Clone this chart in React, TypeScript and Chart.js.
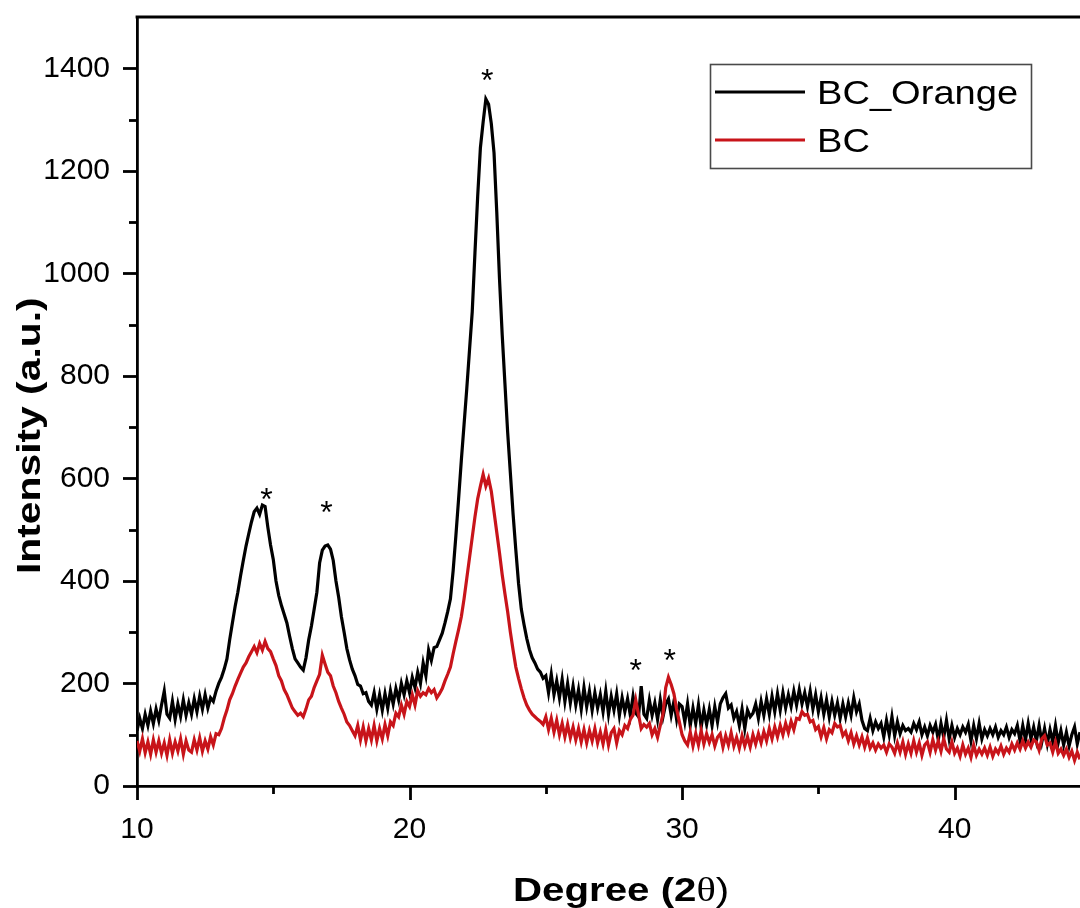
import React, { useEffect, useRef } from "react";
import { Chart, registerables } from "chart.js";

Chart.register(...registerables);

// 2θ grid of the scan (degrees)
const X_START = 10;
const X_STEP = 0.1;

// BC_Orange intensities, 10.0° → 44.6° every 0.1°
const bcOrange = [
  108, 132, 112, 140, 118, 146, 122, 150, 128, 158,
  185, 140, 132, 165, 130, 160, 136, 168, 138, 162,
  140, 170, 145, 175, 150, 178, 152, 172, 165, 185,
  200, 212, 228, 248, 285, 318, 350, 378, 410, 440,
  468, 492, 515, 535, 542, 530, 548, 545, 505, 470,
  442, 400, 372, 352, 335, 318, 292, 268, 248, 240,
  232, 226, 250, 285, 312, 345, 378, 435, 460, 468,
  470, 462, 440, 400, 368, 330, 300, 268, 246, 228,
  215, 198, 195, 180, 182, 165, 158, 182, 150, 178,
  148, 180, 152, 186, 160, 190, 168, 200, 178, 205,
  182, 212, 192, 222, 200, 240, 215, 265, 245, 270,
  272, 285, 298, 318, 340, 365, 420, 488, 560, 635,
  705, 775, 850, 925, 1040, 1150, 1245, 1295, 1340, 1330,
  1292, 1235, 1120, 990, 880, 785, 690, 610, 530, 460,
  395, 345, 315, 288, 266, 250, 240, 228, 222, 210,
  215, 182, 218, 178, 205, 172, 208, 165, 200, 162,
  195, 158, 188, 150, 192, 155, 185, 148, 182, 152,
  178, 145, 185, 140, 175, 148, 180, 138, 172, 145,
  170, 138, 175, 142, 135, 195, 140, 132, 168, 138,
  162, 130, 168, 135, 160, 170, 138, 165, 130, 160,
  155, 125, 160, 118, 152, 122, 158, 115, 148, 120,
  150, 118, 155, 125, 160, 172, 180, 152, 158, 132,
  145, 118, 150, 112, 148, 135, 142, 160, 132, 165,
  138, 170, 140, 175, 145, 180, 148, 182, 152, 178,
  155, 185, 158, 188, 160, 182, 155, 185, 150, 178,
  145, 172, 140, 168, 135, 165, 138, 162, 132, 160,
  135, 162, 138, 172, 145, 160, 128, 112, 108, 132,
  108, 125, 112, 122, 96, 128, 100, 135, 98, 125,
  102, 118, 108, 112, 105, 122, 110, 125, 100, 115,
  98, 118, 105, 120, 90, 122, 95, 128, 92, 118,
  95, 112, 100, 115, 105, 120, 88, 118, 92, 122,
  92, 110, 98, 112, 100, 115, 95, 108, 100, 115,
  95, 110, 102, 118, 88, 118, 90, 122, 92, 115,
  88, 118, 86, 112, 82, 110, 86, 118, 84, 108,
  80, 105, 78, 100, 115, 82, 105,
];

// BC intensities, same grid
const bc = [
  88, 68, 92, 65, 86, 62, 90, 66, 88, 64,
  84, 60, 90, 64, 86, 68, 92, 62, 88, 70,
  66, 90, 70, 94, 68, 88, 72, 96, 80, 102,
  100, 112, 132, 148, 168, 180, 195, 208, 220, 232,
  240, 252, 262, 272, 260, 278, 265, 282, 268, 262,
  248, 235, 215, 205, 188, 178, 165, 152, 145, 138,
  142, 135, 150, 168, 175, 192, 205, 218, 255, 238,
  222, 215, 195, 182, 165, 152, 140, 125, 118, 108,
  98, 118, 90, 115, 88, 112, 90, 118, 88, 112,
  92, 120, 98, 125, 118, 142, 135, 158, 140, 165,
  155, 178, 158, 186, 175, 182, 178, 190, 182, 188,
  172, 180, 190, 205, 218, 232, 258, 282, 305, 330,
  365, 405, 445, 485, 525, 560, 585, 608, 585, 600,
  575, 535, 495, 455, 412, 375, 340, 300, 265, 232,
  210, 190, 172, 158, 148, 140, 135, 130, 126, 120,
  135, 110, 132, 105, 128, 100, 122, 96, 120, 94,
  115, 90, 112, 86, 110, 84, 108, 88, 112, 84,
  105, 82, 110, 80, 104, 112, 84, 108, 100, 118,
  112, 130, 138, 168, 140, 112, 120, 115, 122, 100,
  112, 95, 118, 140, 192, 212, 198, 180, 150, 125,
  100, 88, 80, 105, 78, 102, 80, 108, 82, 102,
  85, 100, 78, 95, 102, 76, 98, 80, 104, 78,
  95, 74, 98, 78, 96, 76, 100, 82, 102, 84,
  106, 88, 112, 92, 115, 96, 118, 100, 122, 104,
  126, 110, 132, 130, 145, 138, 140, 125, 128, 110,
  116, 96, 114, 92, 110, 104, 122, 115, 118, 98,
  106, 88, 104, 82, 98, 80, 96, 76, 94, 74,
  84, 70, 82, 74, 80, 66, 82, 76, 64, 84,
  66, 86, 62, 82, 64, 88, 66, 84, 60, 80,
  86, 66, 90, 70, 88, 68, 92, 72, 66, 86,
  64, 74, 58, 80, 62, 74, 56, 80, 60, 72,
  62, 74, 60, 76, 58, 72, 64, 78, 62, 74,
  66, 82, 70, 84, 72, 88, 74, 86, 76, 90,
  86, 70, 92, 98, 80, 84, 66, 86, 64, 72,
  60, 72, 56, 68, 50, 66, 52,
];

const seriesLabels = ["BC_Orange", "BC"];
const seriesColors = ["#000000", "#c8141a"];

const X_MIN = 10;
const X_MAX = 44.6;
const Y_MIN = 0;
const Y_MAX = 1500;

const xMajorTicks = [10, 20, 30, 40];
const xMinorTicks = [15, 25, 35];
const yMajorTicks = [0, 200, 400, 600, 800, 1000, 1200, 1400];
const yMinorTicks = [100, 300, 500, 700, 900, 1100, 1300];

// peak markers (*)
const starX = [14.75, 16.95, 22.85, 28.3, 29.55];
const starY = [573, 548, 1390, 240, 259];

const xTitle = ["Degree (2", "θ", ")"];
const yTitle = "Intensity (a.u.)";

const SANS = '"Liberation Sans", Arial, Helvetica, sans-serif';
const SERIF = '"Liberation Serif", "Times New Roman", serif';

function toPoints(values: number[]) {
  return values.map((v, i) => ({ x: +(X_START + i * X_STEP).toFixed(1), y: v }));
}

const decorPlugin = {
  id: "decor",
  afterDraw(chart: any) {
    const { ctx, chartArea: ca } = chart;
    const xs = chart.scales.x;
    const ys = chart.scales.y;
    ctx.save();
    ctx.strokeStyle = "#000";
    ctx.lineWidth = 2.8;
    ctx.lineCap = "butt";

    // top frame line
    ctx.beginPath();
    ctx.moveTo(ca.left - 1.4, ca.top);
    ctx.lineTo(ca.right, ca.top);
    ctx.stroke();

    // x ticks (outward)
    const drawXTick = (v: number, len: number) => {
      const px = Math.round(xs.getPixelForValue(v)) + 0.5;
      ctx.beginPath();
      ctx.moveTo(px, ca.bottom);
      ctx.lineTo(px, ca.bottom + len);
      ctx.stroke();
    };
    xMajorTicks.forEach((v) => drawXTick(v, 14));
    xMinorTicks.forEach((v) => drawXTick(v, 8));

    const drawYTick = (v: number, len: number) => {
      const py = Math.round(ys.getPixelForValue(v)) + 0.5;
      ctx.beginPath();
      ctx.moveTo(ca.left, py);
      ctx.lineTo(ca.left - len, py);
      ctx.stroke();
    };
    yMajorTicks.forEach((v) => drawYTick(v, 14));
    yMinorTicks.forEach((v) => drawYTick(v, 8));

    // peak asterisks
    ctx.fillStyle = "#000";
    ctx.font = `32px ${SANS}`;
    ctx.textAlign = "center";
    ctx.textBaseline = "alphabetic";
    starX.forEach((sx, i) => {
      ctx.fillText("*", xs.getPixelForValue(sx), ys.getPixelForValue(starY[i]) + 18);
    });

    // legend
    const lx = 710, ly = 64, lw = 321, lh = 104;
    ctx.strokeStyle = "#4a4a4a";
    ctx.lineWidth = 1.6;
    ctx.strokeRect(lx + 0.5, ly + 0.5, lw, lh);
    const rowsY = [92, 140];
    seriesLabels.forEach((lab, i) => {
      ctx.strokeStyle = seriesColors[i];
      ctx.lineWidth = 2.8;
      ctx.beginPath();
      ctx.moveTo(715, rowsY[i]);
      ctx.lineTo(805, rowsY[i]);
      ctx.stroke();
      ctx.save();
      ctx.translate(817, rowsY[i] + 12);
      ctx.scale(1.12, 1);
      ctx.fillStyle = "#000";
      ctx.font = `34px ${SANS}`;
      ctx.textAlign = "left";
      ctx.fillText(lab, 0, 0);
      ctx.restore();
    });

    // x-axis title
    ctx.save();
    ctx.translate(513, 901);
    ctx.scale(1.22, 1);
    ctx.textAlign = "left";
    ctx.fillStyle = "#000";
    let cx = 0;
    const fonts = [`bold 33px ${SANS}`, `33px ${SERIF}`, `33px ${SANS}`];
    xTitle.forEach((seg, i) => {
      ctx.font = fonts[i];
      ctx.fillText(seg, cx, 0);
      cx += ctx.measureText(seg).width;
    });
    ctx.restore();

    // y-axis title
    ctx.save();
    ctx.translate(40, 574);
    ctx.rotate(-Math.PI / 2);
    ctx.scale(1.2, 1);
    ctx.font = `bold 34px ${SANS}`;
    ctx.fillStyle = "#000";
    ctx.textAlign = "left";
    ctx.fillText(yTitle, 0, 0);
    ctx.restore();

    ctx.restore();
  },
};

export default function App() {
  const canvasRef = useRef<HTMLCanvasElement | null>(null);

  useEffect(() => {
    document.body.style.margin = "0";
    const canvas = canvasRef.current;
    if (!canvas) return;
    const chart = new Chart(canvas, {
      type: "line",
      data: {
        datasets: [
          {
            label: seriesLabels[0],
            data: toPoints(bcOrange),
            borderColor: seriesColors[0],
            borderWidth: 3.2,
            pointRadius: 0,
            tension: 0,
            fill: false,
            order: 1,
          },
          {
            label: seriesLabels[1],
            data: toPoints(bc),
            borderColor: seriesColors[1],
            borderWidth: 3.2,
            pointRadius: 0,
            tension: 0,
            fill: false,
            order: 0,
          },
        ],
      },
      options: {
        responsive: false,
        animation: false,
        devicePixelRatio: 1,
        parsing: false as any,
        normalized: true,
        layout: { padding: { top: 17, right: 0, left: 0, bottom: 0 } },
        plugins: {
          legend: { display: false },
          tooltip: { enabled: false },
          title: { display: false },
        },
        scales: {
          x: {
            type: "linear",
            min: X_MIN,
            max: X_MAX,
            afterFit: (s: any) => {
              s.height = 122;
              s.paddingLeft = 0;
              s.paddingRight = 0;
            },
            grid: { display: false, drawTicks: true, tickLength: 14 },
            border: { display: true, color: "#000", width: 2.8 },
            ticks: {
              stepSize: 5,
              padding: 12,
              color: "#000",
              font: { family: SANS, size: 30 },
              maxRotation: 0,
              autoSkip: false,
              callback: (v: any) => (Number(v) % 10 === 0 ? String(v) : ""),
            },
          },
          y: {
            type: "linear",
            min: Y_MIN,
            max: Y_MAX,
            afterFit: (s: any) => {
              s.width = 137;
              s.paddingTop = 0;
              s.paddingBottom = 0;
            },
            grid: { display: false, drawTicks: true, tickLength: 14 },
            border: { display: true, color: "#000", width: 2.8 },
            ticks: {
              stepSize: 200,
              padding: 13,
              color: "#000",
              font: { family: SANS, size: 30 },
              autoSkip: false,
              callback: (v: any) => (Number(v) % 200 === 0 && Number(v) <= 1400 ? String(v) : ""),
            },
          },
        },
      },
      plugins: [decorPlugin],
    });
    return () => chart.destroy();
  }, []);

  return (
    <div style={{ position: "absolute", left: 0, top: 0, width: 1080, height: 908 }}>
      <canvas ref={canvasRef} width={1080} height={908} style={{ display: "block" }} />
    </div>
  );
}
